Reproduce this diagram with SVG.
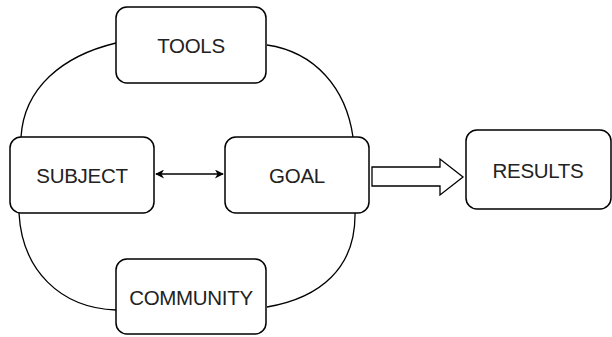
<svg xmlns="http://www.w3.org/2000/svg" width="612" height="337" viewBox="0 0 612 337">
<style>
.box{fill:#fff;stroke:#000;stroke-width:1.5}
.lbl{font-family:"Liberation Sans",Arial,sans-serif;font-size:20.5px;fill:#222;text-anchor:middle;dominant-baseline:central;letter-spacing:-0.3px}
.edge{fill:none;stroke:#000;stroke-width:1.3}
</style>
<defs>
<marker id="ah" viewBox="0 0 10 10" refX="9" refY="5" markerWidth="10" markerHeight="9" orient="auto-start-reverse" markerUnits="userSpaceOnUse">
<path d="M0,0 L10,5 L0,10 L3,5 Z" fill="#000"/>
</marker>
</defs>
<rect width="612" height="337" fill="#fff"/>
<g id="connectors">
<path class="edge" d="M116,43 C62,56 24,88 21,137"/>
<path class="edge" d="M267,45 C315,52 346,88 353,137"/>
<path class="edge" d="M19,213 C22,270 60,308 116,310"/>
<path class="edge" d="M355,213 C356,268 320,298 267,307"/>
<path class="edge" d="M156,174 L223,174" marker-start="url(#ah)" marker-end="url(#ah)"/>
<path d="M372,167 L440,167 L440,159 L463,177 L440,195 L440,186 L372,186 Z" fill="#fff" stroke="#000" stroke-width="1.3"/>
</g>
<g id="tools"><rect class="box" x="116" y="7" width="150" height="76" rx="11"/><text class="lbl" x="191" y="45">TOOLS</text></g>
<g id="subject"><rect class="box" x="10" y="137" width="144" height="76" rx="11"/><text class="lbl" x="82" y="175">SUBJECT</text></g>
<g id="goal"><rect class="box" x="225" y="137" width="144" height="76" rx="11"/><text class="lbl" x="297" y="175">GOAL</text></g>
<g id="community"><rect class="box" x="116" y="259" width="150" height="75" rx="11"/><text class="lbl" x="191" y="297">COMMUNITY</text></g>
<g id="results"><rect class="box" x="466" y="130" width="145" height="79" rx="11"/><text class="lbl" x="538" y="170">RESULTS</text></g>
</svg>
